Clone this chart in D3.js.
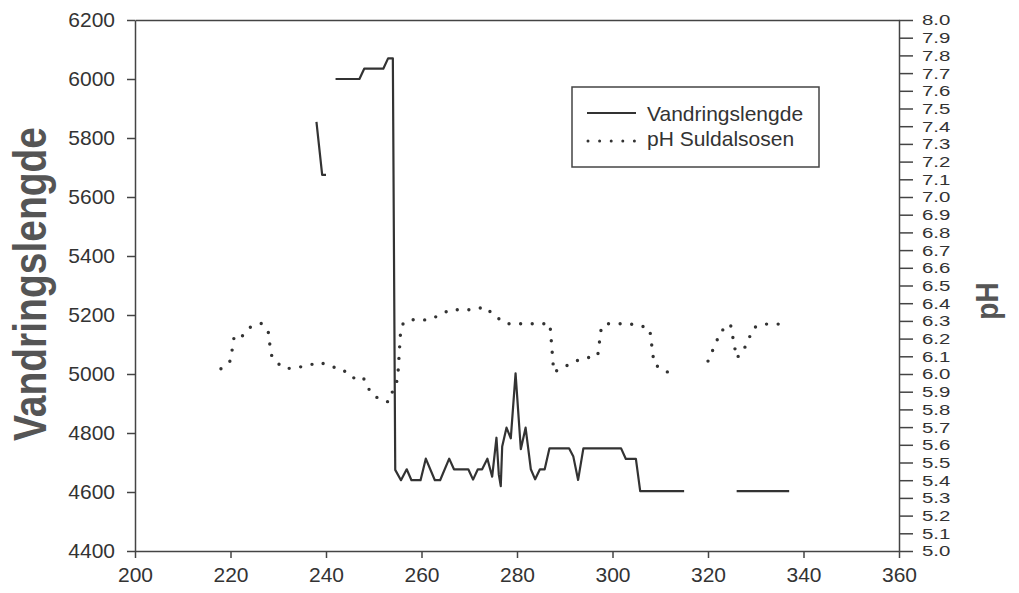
<!DOCTYPE html>
<html><head><meta charset="utf-8">
<script src="https://cdn.jsdelivr.net/npm/d3@7"></script>
<style>
html,body{margin:0;padding:0;background:#fff;}
svg{display:block;}
text{font-family:"Liberation Sans",Arial,Helvetica,sans-serif;}
</style></head>
<body>
<script>
// ---- data ----
const xTicks = [200, 220, 240, 260, 280, 300, 320, 340, 360];
const leftTicks = [4400, 4600, 4800, 5000, 5200, 5400, 5600, 5800, 6000, 6200];
const phTicks = d3.range(50, 81).map(v => v / 10);

const seriesNames = ["Vandringslengde", "pH Suldalsosen"];
const axisTitles = ["Vandringslengde", "pH"];

const vandDays = [238, 239.2, 240, null, 242, 247, 248, 252, 253, 254, 254.5, 255.7, 256.9, 257.9, 259.8, 260.9, 262.8, 263.9, 265.8, 266.8, 269.8, 270.8, 271.8, 272.7, 273.8, 274.8, 275.7, 276.2, 276.6, 276.9, 277.8, 278.7, 279.7, 280.8, 281.8, 282.9, 283.8, 284.8, 285.8, 286.8, 290.9, 291.8, 292.8, 293.9, 301.8, 302.8, 304.9, 305.8, 315, null, 326, 337];
const vandVals = [5855, 5675, 5675, null, 6000, 6000, 6035, 6035, 6070, 6070, 4675, 4640, 4677, 4640, 4640, 4713, 4640, 4640, 4713, 4677, 4677, 4642, 4677, 4677, 4713, 4652, 4784, 4658, 4620, 4754, 4818, 4782, 5002, 4745, 4818, 4677, 4643, 4677, 4677, 4748, 4748, 4720, 4641, 4748, 4748, 4712, 4712, 4603, 4603, null, 4603, 4603];

const phDays = [218, 220, 220.7, 221.4, 222.4, 224.1, 226.4, 227.9, 228.5, 229.7, 231.5, 233.9, 236.3, 238.7, 241.2, 243.4, 245.6, 247.5, 248.3, 249.3, 251.2, 253.1, 254, 255, 255.6, 256.2, 258.6, 261.1, 263.5, 266, 270.8, 273.3, 275.5, 277.8, 286.9, 287.7, 290, 292.3, 294.7, 296.9, 297.6, 298.4, 303.2, 305.7, 307.8, 308.7, 310.7, 313, null, 320, 322.7, 324.7, 326, 327.4, 329.6, 331.6, 337];
const phVals = [6.03, 6.075, 6.2, 6.225, 6.213, 6.264, 6.286, 6.239, 6.11, 6.064, 6.03, 6.036, 6.049, 6.066, 6.041, 6.027, 5.977, 5.987, 5.959, 5.895, 5.857, 5.842, 5.906, 5.97, 6.23, 6.29, 6.309, 6.305, 6.328, 6.363, 6.363, 6.379, 6.324, 6.284, 6.284, 6.01, 6.041, 6.073, 6.092, 6.102, 6.25, 6.284, 6.284, 6.275, 6.254, 6.058, 6.017, 6.002, null, 6.073, 6.241, 6.282, 6.09, 6.132, 6.262, 6.282, 6.282];

// ---- layout ----
const W = 1019, H = 593;
const L = 135, R = 899, T = 20, B = 551;
const ink = "#333";

const svg = d3.select("body").append("svg").attr("width", W).attr("height", H);

const x = d3.scaleLinear().domain([200, 360]).range([L, R]);
const yL = d3.scaleLinear().domain([4400, 6200]).range([B, T]);
const yR = d3.scaleLinear().domain([5, 8]).range([B, T]);

function styleAxis(g, fs) {
  g.selectAll("path.domain").attr("stroke", "#444").attr("stroke-width", 1.5);
  g.selectAll(".tick line").attr("stroke", "#444").attr("stroke-width", 1.5);
  g.selectAll(".tick text").attr("fill", ink).attr("font-size", fs || 21)
    .attr("font-family", "'Liberation Sans', Arial, sans-serif");
}

// top frame line
svg.append("g").attr("transform", `translate(0,${T})`)
  .call(d3.axisTop(x).tickValues([]).tickSizeOuter(0)).call(styleAxis);

svg.append("g").attr("transform", `translate(0,${B})`)
  .call(d3.axisBottom(x).tickValues(xTicks).tickFormat(d3.format("d")).tickSize(7).tickSizeOuter(0).tickPadding(9))
  .call(styleAxis);

svg.append("g").attr("transform", `translate(${L},0)`)
  .call(d3.axisLeft(yL).tickValues(leftTicks).tickFormat(d3.format("d")).tickSize(8).tickSizeOuter(0).tickPadding(12))
  .call(styleAxis);

const rAxis = svg.append("g").attr("transform", `translate(${R},0)`)
  .call(d3.axisRight(yR).tickValues(phTicks).tickFormat(d3.format(".1f")).tickSize(14).tickSizeOuter(0).tickPadding(8))
  .call(g => styleAxis(g, 15.5));
// widen the compact pH labels horizontally, keeping their left edge
rAxis.selectAll(".tick text")
  .attr("x", 23 / 1.32)
  .attr("transform", "scale(1.32,1)");

// axis titles
svg.append("text")
  .attr("transform", `translate(46,284) rotate(-90) scale(1,1.2)`)
  .attr("text-anchor", "middle")
  .attr("font-size", 39).attr("font-weight", "bold").attr("fill", "#555")
  .text(axisTitles[0]);
svg.append("text")
  .attr("transform", `translate(998,301) rotate(-90) scale(1,1.15)`)
  .attr("text-anchor", "middle")
  .attr("font-size", 28).attr("font-weight", "bold").attr("fill", "#555")
  .text(axisTitles[1]);

// series
const vandData = vandDays.map((d, i) => ({ d, v: vandVals[i] }));
const phData = phDays.map((d, i) => ({ d, v: phVals[i] }));

const lineL = d3.line().defined(p => p.d != null && p.v != null).x(p => x(p.d)).y(p => yL(p.v));
const lineR = d3.line().defined(p => p.d != null && p.v != null).x(p => x(p.d)).y(p => yR(p.v));

svg.append("path").datum(phData).attr("d", lineR)
  .attr("fill", "none").attr("stroke", ink).attr("stroke-width", 3.4)
  .attr("stroke-linecap", "round").attr("stroke-dasharray", "0 11.6");

svg.append("path").datum(vandData).attr("d", lineL)
  .attr("fill", "none").attr("stroke", ink).attr("stroke-width", 2.2)
  .attr("stroke-linejoin", "round");

// legend
const lg = svg.append("g");
lg.append("rect").attr("x", 572).attr("y", 87).attr("width", 247).attr("height", 80)
  .attr("fill", "#fff").attr("stroke", "#444").attr("stroke-width", 1.5);
lg.append("line").attr("x1", 587).attr("x2", 636).attr("y1", 113).attr("y2", 113)
  .attr("stroke", ink).attr("stroke-width", 2.2);
lg.append("line").attr("x1", 588).attr("x2", 636).attr("y1", 141).attr("y2", 141)
  .attr("stroke", ink).attr("stroke-width", 3).attr("stroke-linecap", "round").attr("stroke-dasharray", "0 11.6");
lg.append("text").attr("x", 647).attr("y", 121).attr("font-size", 21).attr("fill", ink).text(seriesNames[0]);
lg.append("text").attr("x", 647).attr("y", 146).attr("font-size", 21).attr("fill", ink).text(seriesNames[1]);
</script>
</body></html>
